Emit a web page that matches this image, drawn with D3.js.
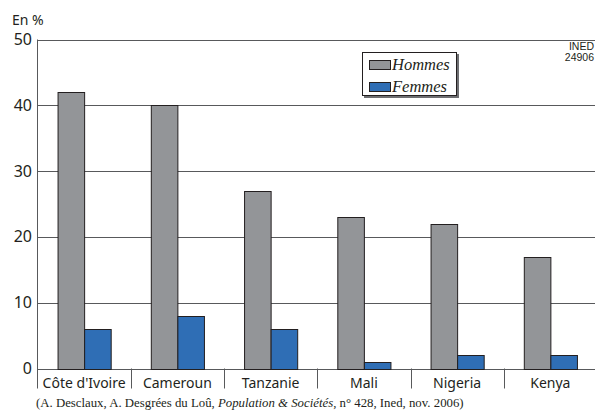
<!DOCTYPE html>
<meta charset="utf-8">
<head>
<style>
body { margin: 0; background: #fff; }
text { font-family: 'Noto Sans', sans-serif; fill: #231f20; }
.axis text { font-size: 16px; }
.cat text { font-size: 14px; }
.legend text { font-family: 'Liberation Serif', serif; font-style: italic; font-size: 16.5px; }
.ined { font-family: 'Liberation Sans', sans-serif; font-size: 10.5px; }
.source { font-family: 'Liberation Serif', serif; font-size: 12.8px; }
</style>
<script src="https://d3js.org/d3.v7.min.js"></script>
</head>
<body>
<svg id="chart"></svg>
<script>

var countries = ["Côte d'Ivoire", "Cameroun", "Tanzanie", "Mali", "Nigeria", "Kenya"]
var hommes = [42, 40, 27, 23, 22, 17]
var femmes = [6, 8, 6, 1, 2, 2]
var yTicks = [0, 10, 20, 30, 40, 50]
var seriesNames = ["Hommes", "Femmes"]

var width = 595, height = 410
var margin = {top: 39.5, right: -2, bottom: 41.5, left: 37.5}

var svg = d3.select('#chart').attr('width', width).attr('height', height)

var x = d3.scaleBand()
  .domain(countries)
  .range([margin.left, width - margin.right])

var sub = d3.scaleBand()
  .domain(seriesNames)
  .range([0, x.bandwidth()])
  .paddingInner(0)
  .paddingOuter(0.755)

var y = d3.scaleLinear()
  .domain([0, 50])
  .range([height - margin.bottom, margin.top])

var colors = {Hommes: '#939598', Femmes: '#2f6eb5'}

// grid
svg.append('g')
  .selectAll('line')
  .data(yTicks)
  .enter().append('line')
  .attr('x1', margin.left).attr('x2', width)
  .attr('y1', d => Math.round(y(d)) + 0.5).attr('y2', d => Math.round(y(d)) + 0.5)
  .attr('stroke', '#58595b').attr('stroke-width', 1)

// y axis line
svg.append('line')
  .attr('x1', margin.left).attr('x2', margin.left)
  .attr('y1', y(50)).attr('y2', y(0) + 20)
  .attr('stroke', '#58595b')

svg.append('g').attr('class', 'axis')
  .selectAll('text')
  .data(yTicks)
  .enter().append('text')
  .attr('x', 32).attr('y', d => y(d) + 5.5)
  .attr('text-anchor', 'end')
  .text(d => d)

svg.append('text').attr('x', 12).attr('y', 25).style('font-size', '14px').text('En %')

// bars
var data = countries.map((c, i) => ({country: c, Hommes: hommes[i], Femmes: femmes[i]}))

var groups = svg.selectAll('.grp')
  .data(data)
  .enter().append('g')
  .attr('transform', d => 'translate(' + x(d.country) + ',0)')

groups.selectAll('rect')
  .data(d => seriesNames.map(s => ({key: s, value: d[s]})))
  .enter().append('rect')
  .attr('x', d => sub(d.key) + 0.5)
  .attr('y', d => Math.round(y(d.value)) + 0.5)
  .attr('width', sub.bandwidth())
  .attr('height', d => Math.round(y(0)) - Math.round(y(d.value)))
  .attr('fill', d => colors[d.key])
  .attr('stroke', '#231f20').attr('stroke-width', 1)

// category separators and labels
var cat = svg.append('g').attr('class', 'cat')
cat.selectAll('line')
  .data(countries.slice(1))
  .enter().append('line')
  .attr('x1', d => Math.round(x(d)) + 0.5).attr('x2', d => Math.round(x(d)) + 0.5)
  .attr('y1', y(0)).attr('y2', y(0) + 20)
  .attr('stroke', '#58595b')

cat.selectAll('text')
  .data(countries)
  .enter().append('text')
  .attr('x', d => x(d) + x.bandwidth() / 2)
  .attr('y', y(0) + 19)
  .attr('text-anchor', 'middle')
  .text(d => d)

// legend
var lg = svg.append('g').attr('class', 'legend').attr('transform', 'translate(362,52)')
lg.append('rect').attr('x', 2).attr('y', 2).attr('width', 95).attr('height', 44).attr('fill', '#6d6e71')
lg.append('rect').attr('x', 0.5).attr('y', 0.5).attr('width', 94).attr('height', 43)
  .attr('fill', '#fff').attr('stroke', '#231f20')
seriesNames.forEach(function (s, i) {
  lg.append('rect').attr('x', 7.5).attr('y', 8.5 + i * 22).attr('width', 21).attr('height', 9)
    .attr('fill', colors[s]).attr('stroke', '#231f20')
  lg.append('text').attr('x', 30).attr('y', 18 + i * 22).text(s)
})

svg.append('text').attr('class', 'ined').attr('x', 594).attr('y', 50).attr('text-anchor', 'end').text('INED')
svg.append('text').attr('class', 'ined').attr('x', 594).attr('y', 61).attr('text-anchor', 'end').text('24906')

var src = svg.append('text').attr('class', 'source').attr('x', 36).attr('y', 407)
src.append('tspan').text('(A. Desclaux, A. Desgrées du Loû, ')
src.append('tspan').style('font-style', 'italic').text('Population & Sociétés')
src.append('tspan').text(', n° 428, Ined, nov. 2006)')

</script>
</body>
</html>
